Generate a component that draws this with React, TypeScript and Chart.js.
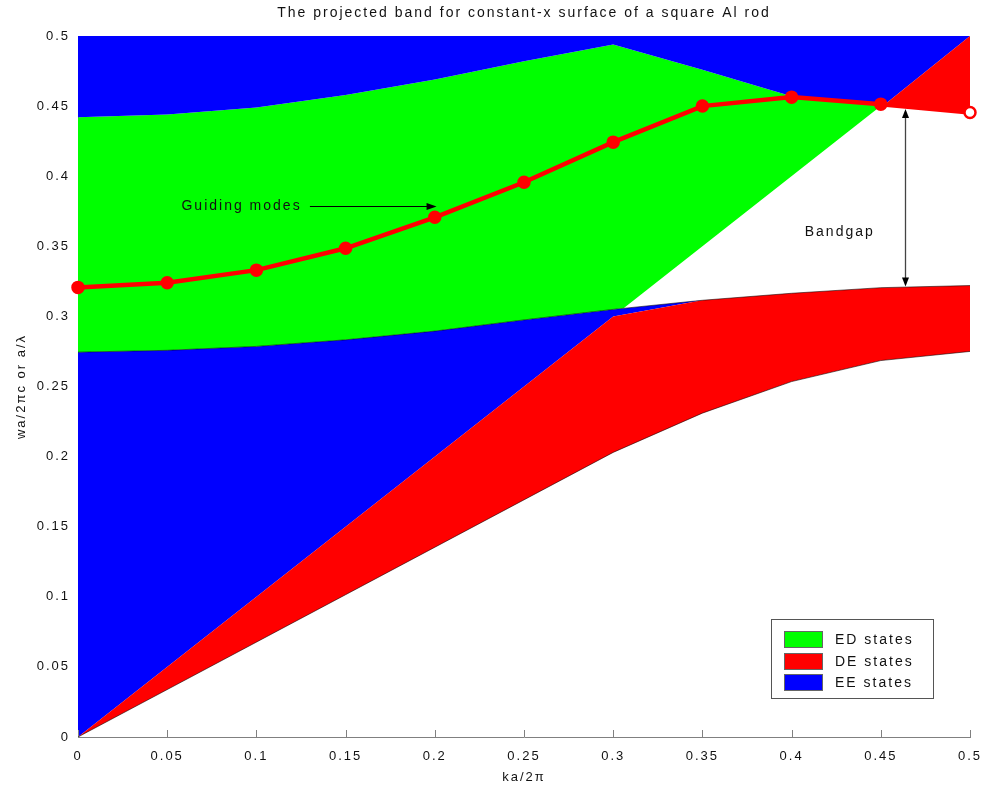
import React, { useEffect, useRef } from "react";
import { Chart, registerables } from "chart.js";

Chart.register(...registerables);

// ---------- text ----------
const TITLE = "The projected band for constant-x surface of a square Al rod";
const X_TITLE = "ka/2π";
const Y_TITLE = "wa/2πc or a/λ";
const LEGEND_LABELS = ["ED states", "DE states", "EE states"];
const GUIDE_TEXT = "Guiding modes";
const GAP_TEXT = "Bandgap";

// ---------- ticks ----------
const X_TICKS = [0, 0.05, 0.1, 0.15, 0.2, 0.25, 0.3, 0.35, 0.4, 0.45, 0.5];
const Y_TICKS = [0, 0.05, 0.1, 0.15, 0.2, 0.25, 0.3, 0.35, 0.4, 0.45, 0.5];

// ---------- guided mode (red line with markers) ----------
const MODE_K = [0, 0.05, 0.1, 0.15, 0.2, 0.25, 0.3, 0.35, 0.4, 0.45, 0.5];
const MODE_W = [0.3207, 0.324, 0.333, 0.3486, 0.3707, 0.3957, 0.4243, 0.45, 0.4564, 0.4514, 0.4455];

// ---------- EE states, lower region: top edge ----------
const EE_LOW_TOP_K = [0, 0.05, 0.1, 0.15, 0.2, 0.25, 0.3, 0.35, 0.4, 0.45, 0.5];
const EE_LOW_TOP_W = [0.2745, 0.2758, 0.2786, 0.2833, 0.2895, 0.2975, 0.305, 0.3115, 0.3165, 0.3205, 0.322];

// ---------- DE states band ----------
const DE_UP_K = [0, 0.3, 0.35, 0.4, 0.45, 0.5];
const DE_UP_W = [0, 0.3, 0.3115, 0.3165, 0.3205, 0.322];
const DE_LOW_K = [0, 0.3, 0.35, 0.4, 0.45, 0.5];
const DE_LOW_W = [0, 0.203, 0.231, 0.2535, 0.2685, 0.275];

// ---------- ED states band ----------
const ED_UP_K = [0, 0.05, 0.1, 0.15, 0.2, 0.25, 0.3, 0.35, 0.4, 0.45];
const ED_UP_W = [0.442, 0.444, 0.449, 0.458, 0.469, 0.482, 0.494, 0.476, 0.457, 0.4505];
const ED_LOW_K = [0, 0.05, 0.1, 0.15, 0.2, 0.25, 0.3, 0.306, 0.45];
const ED_LOW_W = [0.2745, 0.2758, 0.2786, 0.2833, 0.2895, 0.2975, 0.305, 0.306, 0.45];

// ---------- EE states, upper region: lower edge ----------
const EE_UP_K = [0, 0.05, 0.1, 0.15, 0.2, 0.25, 0.3, 0.35, 0.4, 0.452, 0.5];
const EE_UP_W = [0.442, 0.444, 0.449, 0.458, 0.469, 0.482, 0.494, 0.476, 0.457, 0.451, 0.5];

// ---------- DE states, small upper-right triangle ----------
const DE_TRI_TOP_K = [0.452, 0.5];
const DE_TRI_TOP_W = [0.451, 0.5];
const DE_TRI_BOT_K = [0.452, 0.5];
const DE_TRI_BOT_W = [0.451, 0.4455];

// ---------- annotations ----------
const GUIDE_TEXT_POS = [0.058, 0.379];
const GUIDE_ARROW = [0.13, 0.201, 0.3786]; // x from, x to, y
const GAP_ARROW = [0.4636, 0.3214, 0.4479]; // x, y from, y to
const GAP_TEXT_POS = [0.427, 0.36];

const GREEN = "#00ff00";
const RED = "#ff0000";
const BLUE = "#0000ff";
const LEGEND_COLORS = [GREEN, RED, BLUE];
const FONT = "'Liberation Sans', Arial, Helvetica, sans-serif";
const SPACING = "2px";

const pts = (k: number[], w: number[]) => k.map((x, i) => ({ x, y: w[i] }));
const fmt = (v: number) => String(Math.round(v * 100) / 100);

function arrowHead(ctx: CanvasRenderingContext2D, x: number, y: number, dx: number, dy: number, len: number, half: number) {
  const n = Math.hypot(dx, dy);
  const ux = dx / n, uy = dy / n;
  ctx.beginPath();
  ctx.moveTo(x, y);
  ctx.lineTo(x - ux * len - uy * half, y - uy * len + ux * half);
  ctx.lineTo(x - ux * len + uy * half, y - uy * len - ux * half);
  ctx.closePath();
  ctx.fill();
}

const annotPlugin = {
  id: "annot",
  beforeDraw(chart: any) {
    chart.ctx.letterSpacing = SPACING;
  },
  beforeDatasetsDraw(chart: any) {
    const { ctx, scales, chartArea } = chart;
    ctx.save();
    ctx.strokeStyle = "#808080";
    ctx.lineWidth = 1;
    X_TICKS.forEach((t) => {
      const px = Math.round(scales.x.getPixelForValue(t)) + 0.5;
      ctx.beginPath();
      ctx.moveTo(px, chartArea.bottom);
      ctx.lineTo(px, chartArea.bottom - 7);
      ctx.stroke();
    });
    ctx.restore();
  },
  afterDraw(chart: any) {
    const { ctx, scales, chartArea } = chart;
    const X = (v: number) => scales.x.getPixelForValue(v);
    const Y = (v: number) => scales.y.getPixelForValue(v);
    ctx.save();
    ctx.letterSpacing = SPACING;
    ctx.font = `14px ${FONT}`;
    ctx.fillStyle = "#111";
    ctx.textBaseline = "middle";
    ctx.textAlign = "left";
    // Guiding modes
    ctx.fillText(GUIDE_TEXT, X(GUIDE_TEXT_POS[0]), Y(GUIDE_TEXT_POS[1]));
    ctx.strokeStyle = "#000";
    ctx.lineWidth = 1;
    const gy = Math.round(Y(GUIDE_ARROW[2])) + 0.5;
    ctx.beginPath();
    ctx.moveTo(X(GUIDE_ARROW[0]), gy);
    ctx.lineTo(X(GUIDE_ARROW[1]) - 4, gy);
    ctx.stroke();
    ctx.fillStyle = "#000";
    arrowHead(ctx, X(GUIDE_ARROW[1]), gy, 1, 0, 10, 3.5);
    // Bandgap
    ctx.fillStyle = "#111";
    ctx.textAlign = "center";
    ctx.fillText(GAP_TEXT, X(GAP_TEXT_POS[0]), Y(GAP_TEXT_POS[1]));
    const gx = Math.round(X(GAP_ARROW[0])) + 0.5;
    ctx.strokeStyle = "#444";
    ctx.lineWidth = 1.3;
    ctx.beginPath();
    ctx.moveTo(gx, Y(GAP_ARROW[1]) - 4);
    ctx.lineTo(gx, Y(GAP_ARROW[2]) + 4);
    ctx.stroke();
    ctx.fillStyle = "#000";
    arrowHead(ctx, gx, Y(GAP_ARROW[1]), 0, 1, 9, 3.5);
    arrowHead(ctx, gx, Y(GAP_ARROW[2]), 0, -1, 9, 3.5);
    // Legend
    const bx = chartArea.right - 199;
    const by = chartArea.bottom - 118;
    const bw = 162, bh = 79;
    ctx.fillStyle = "#fff";
    ctx.fillRect(bx, by, bw, bh);
    ctx.strokeStyle = "#555";
    ctx.lineWidth = 1;
    ctx.strokeRect(bx + 0.5, by + 0.5, bw, bh);
    const rows = [20, 42, 63];
    LEGEND_LABELS.forEach((lab, i) => {
      const cy = by + rows[i];
      ctx.fillStyle = LEGEND_COLORS[i];
      ctx.fillRect(bx + 13, cy - 8, 38, 16);
      ctx.strokeStyle = "#666";
      ctx.strokeRect(bx + 13.5, cy - 7.5, 38, 16);
      ctx.fillStyle = "#111";
      ctx.textAlign = "left";
      ctx.fillText(lab, bx + 64, cy + 1);
    });
    ctx.restore();
  },
};

export default function App() {
  const ref = useRef<HTMLCanvasElement>(null);
  useEffect(() => {
    const canvas = ref.current!;
    const hidden = { borderWidth: 0, pointRadius: 0, pointHoverRadius: 0, tension: 0 };
    const edge = "rgba(0,0,0,0.55)";
    const modeBg = MODE_K.map((_, i) => (i === MODE_K.length - 1 ? "#ffffff" : RED));
    const chart = new Chart(canvas, {
      type: "line",
      data: {
        datasets: [
          {
            label: "Guiding modes",
            data: pts(MODE_K, MODE_W),
            borderColor: RED,
            borderWidth: 4.5,
            pointRadius: 5.5,
            pointBorderWidth: 2.5,
            pointBorderColor: RED,
            pointBackgroundColor: modeBg,
            fill: false,
            tension: 0,
            clip: false,
            order: 0,
          } as any,
          { label: "DE tri top", data: pts(DE_TRI_TOP_K, DE_TRI_TOP_W), ...hidden, backgroundColor: RED, fill: 2, order: 1 },
          { label: "DE tri bot", data: pts(DE_TRI_BOT_K, DE_TRI_BOT_W), ...hidden, fill: false, order: 1 },
          { label: "EE top", data: pts(EE_UP_K, EE_UP_W), ...hidden, backgroundColor: BLUE, fill: "end", order: 2 },
          { label: "ED up", data: pts(ED_UP_K, ED_UP_W), ...hidden, backgroundColor: GREEN, fill: 5, order: 3 },
          { label: "ED low", data: pts(ED_LOW_K, ED_LOW_W), ...hidden, fill: false, order: 3 },
          { label: "DE up", data: pts(DE_UP_K, DE_UP_W), ...hidden, backgroundColor: RED, fill: 7, order: 4 },
          { label: "DE low", data: pts(DE_LOW_K, DE_LOW_W), ...hidden, borderWidth: 1, borderColor: edge, fill: false, order: 4 },
          { label: "EE low", data: pts(EE_LOW_TOP_K, EE_LOW_TOP_W), ...hidden, borderWidth: 1, borderColor: edge, backgroundColor: BLUE, fill: 6, order: 5 },
        ],
      },
      options: {
        responsive: false,
        animation: false,
        devicePixelRatio: 1,
        events: [],
        layout: { padding: { left: 0, right: 12, top: 0, bottom: 0 } },
        plugins: {
          legend: { display: false },
          tooltip: { enabled: false },
          filler: { drawTime: "beforeDatasetsDraw" },
          title: {
            display: true,
            text: TITLE,
            fullSize: false,
            color: "#111",
            font: { family: FONT, size: 14, weight: "normal" },
            padding: { top: 5, bottom: 14.2 },
          },
        },
        scales: {
          x: {
            type: "linear",
            min: 0,
            max: 0.5,
            afterFit: (s: any) => { s.height = 54; s.paddingLeft = 0; s.paddingRight = 0; },
            afterBuildTicks: (s: any) => { s.ticks = X_TICKS.map((v) => ({ value: v })); },
            grid: { display: false, drawTicks: false },
            border: { display: true, color: "#808080", width: 1 },
            ticks: { color: "#111", font: { family: FONT, size: 13 }, padding: 12, callback: (v: any) => fmt(Number(v)), maxRotation: 0, autoSkip: false },
            title: { display: true, text: X_TITLE, color: "#111", font: { family: FONT, size: 13 }, padding: { top: 4, bottom: 6 } },
          },
          y: {
            type: "linear",
            min: 0,
            max: 0.5,
            afterFit: (s: any) => { s.width = 78; },
            afterBuildTicks: (s: any) => { s.ticks = Y_TICKS.map((v) => ({ value: v })); },
            grid: { display: false, drawTicks: false },
            border: { display: true, color: "#808080", width: 1 },
            ticks: { color: "#111", font: { family: FONT, size: 13 }, padding: 8, callback: (v: any) => fmt(Number(v)), autoSkip: false },
            title: { display: true, text: Y_TITLE, color: "#111", font: { family: FONT, size: 13 }, padding: { top: 14, bottom: 4 } },
          },
        },
      } as any,
      plugins: [annotPlugin],
    });
    return () => chart.destroy();
  }, []);
  return (
    <div style={{ position: "absolute", left: 0, top: 0, width: 982, height: 791, background: "#fff" }}>
      <canvas ref={ref} width={982} height={791} style={{ display: "block", width: 982, height: 791 }} />
    </div>
  );
}
